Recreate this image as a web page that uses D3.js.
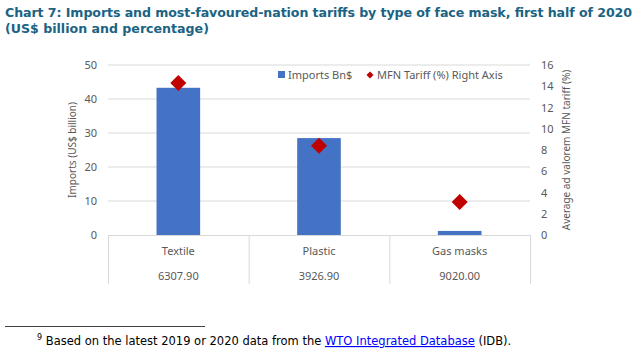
<!DOCTYPE html>
<html>
<head>
<meta charset="utf-8">
<script src="https://cdn.jsdelivr.net/npm/d3@7"></script>
<style>
  body { margin: 0; background: #fff; }
  svg { display: block; }
</style>
</head>
<body>
<svg id="chart"></svg>
<script>
const width = 640;
const height = 360;

const categories = ["Textile", "Plastic", "Gas masks"];
const imports = [43.3, 28.5, 1.2];
const tariffs = [14.3, 8.4, 3.1];
const tableValues = ["6307.90", "3926.90", "9020.00"];
const leftTicks = [0, 10, 20, 30, 40, 50];
const rightTicks = [0, 2, 4, 6, 8, 10, 12, 14, 16];

const svg = d3.select("#chart")
    .attr("width", width)
    .attr("height", height);

const plot = { left: 108, right: 530, top: 65, bottom: 235 };
const textColor = "#595959";
const gridColor = "#d9d9d9";
const chartFont = "'Noto Sans', 'Open Sans', sans-serif";

// title
const title = svg.append("text")
    .attr("font-family", "'DejaVu Sans', Verdana, sans-serif")
    .attr("font-weight", "bold")
    .attr("font-size", 12.6)
    .attr("fill", "#1b6383");
title.append("tspan").attr("x", 5).attr("y", 17)
    .attr("textLength", 627)
    .attr("lengthAdjust", "spacing")
    .text("Chart 7: Imports and most-favoured-nation tariffs by type of face mask, first half of 2020");
title.append("tspan").attr("x", 5).attr("y", 33)
    .text("(US$ billion and percentage)");

const x = d3.scaleBand()
    .domain(categories)
    .range([plot.left, plot.right])
    .padding(0);

const yLeft = d3.scaleLinear()
    .domain([0, 50])
    .range([plot.bottom, plot.top]);

const yRight = d3.scaleLinear()
    .domain([0, 16])
    .range([plot.bottom, plot.top]);

// gridlines
svg.append("g")
    .selectAll("line")
    .data(leftTicks.slice(1))
    .join("line")
    .attr("x1", plot.left)
    .attr("x2", plot.right)
    .attr("y1", d => yLeft(d))
    .attr("y2", d => yLeft(d))
    .attr("stroke", gridColor)
    .attr("stroke-width", 1);

// left axis
const leftAxis = svg.append("g")
    .attr("transform", `translate(${plot.left},0)`)
    .call(d3.axisLeft(yLeft).tickValues(leftTicks).tickSize(0).tickPadding(11));
leftAxis.select(".domain").remove();
leftAxis.selectAll("text")
    .attr("font-family", chartFont)
    .attr("font-size", 11)
    .attr("fill", textColor);

// right axis
const rightAxis = svg.append("g")
    .attr("transform", `translate(${plot.right},0)`)
    .call(d3.axisRight(yRight).tickValues(rightTicks).tickSize(0).tickPadding(11));
rightAxis.select(".domain").remove();
rightAxis.selectAll("text")
    .attr("font-family", chartFont)
    .attr("font-size", 11)
    .attr("fill", textColor);

// axis titles
svg.append("text")
    .attr("transform", `translate(76,${(plot.top + plot.bottom) / 2}) rotate(-90)`)
    .attr("text-anchor", "middle")
    .attr("font-family", chartFont)
    .attr("font-size", 10)
    .attr("fill", textColor)
    .text("Imports (US$ billion)");

svg.append("text")
    .attr("transform", `translate(570,${(plot.top + plot.bottom) / 2}) rotate(-90)`)
    .attr("text-anchor", "middle")
    .attr("font-family", chartFont)
    .attr("font-size", 10)
    .attr("fill", textColor)
    .text("Average ad valorem MFN tariff (%)");

// bars
const barW = x.bandwidth() * 0.31;
svg.append("g")
    .selectAll("rect")
    .data(categories)
    .join("rect")
    .attr("x", d => x(d) + (x.bandwidth() - barW) / 2)
    .attr("y", (d, i) => yLeft(imports[i]))
    .attr("width", barW)
    .attr("height", (d, i) => yLeft(0) - yLeft(imports[i]))
    .attr("fill", "#4472c4");

// diamonds
const dsize = 8;
svg.append("g")
    .selectAll("path")
    .data(categories)
    .join("path")
    .attr("transform", (d, i) => `translate(${x(d) + x.bandwidth() / 2},${yRight(tariffs[i])})`)
    .attr("d", `M0,${-dsize} L${dsize},0 L0,${dsize} L${-dsize},0 Z`)
    .attr("fill", "#c00000");

// data table under the axis
const tableBottom = 284;
svg.append("line")
    .attr("x1", plot.left).attr("x2", plot.right)
    .attr("y1", plot.bottom + 0.5).attr("y2", plot.bottom + 0.5)
    .attr("stroke", gridColor);
svg.append("g")
    .selectAll("line")
    .data(categories.concat([null]))
    .join("line")
    .attr("x1", (d, i) => (d ? x(d) : plot.right) + 0.5)
    .attr("x2", (d, i) => (d ? x(d) : plot.right) + 0.5)
    .attr("y1", plot.bottom)
    .attr("y2", tableBottom)
    .attr("stroke", gridColor);

svg.append("g")
    .selectAll("text")
    .data(categories)
    .join("text")
    .attr("x", d => x(d) + x.bandwidth() / 2)
    .attr("y", 255)
    .attr("text-anchor", "middle")
    .attr("font-family", chartFont)
    .attr("font-size", 11)
    .attr("fill", textColor)
    .text(d => d);

svg.append("g")
    .selectAll("text")
    .data(categories)
    .join("text")
    .attr("x", d => x(d) + x.bandwidth() / 2)
    .attr("y", 280)
    .attr("text-anchor", "middle")
    .attr("font-family", chartFont)
    .attr("font-size", 11)
    .attr("fill", textColor)
    .text((d, i) => tableValues[i]);

// legend
const legend = svg.append("g").attr("font-family", chartFont).attr("font-size", 11).attr("fill", textColor);
legend.append("rect").attr("x", 278).attr("y", 71).attr("width", 7).attr("height", 7).attr("fill", "#4472c4");
legend.append("text").attr("x", 288).attr("y", 79).text("Imports Bn$");
legend.append("path")
    .attr("transform", "translate(370,75)")
    .attr("d", "M0,-3.5 L3.5,0 L0,3.5 L-3.5,0 Z")
    .attr("fill", "#c00000");
legend.append("text").attr("x", 377).attr("y", 79).text("MFN Tariff (%) Right Axis");

// footnote
svg.append("line")
    .attr("x1", 5).attr("x2", 205)
    .attr("y1", 326.5).attr("y2", 326.5)
    .attr("stroke", "#404040");

const foot = svg.append("text")
    .attr("x", 37)
    .attr("y", 345)
    .attr("font-family", "'DejaVu Sans', Verdana, sans-serif")
    .attr("font-size", 11.5)
    .attr("fill", "#000");
foot.append("tspan").attr("font-size", 8).attr("dy", -5).text("9");
foot.append("tspan").attr("dy", 5).text(" Based on the latest 2019 or 2020 data from the ");
foot.append("tspan").attr("fill", "#0000ff").attr("text-decoration", "underline").text("WTO Integrated Database");
foot.append("tspan").text(" (IDB).");
</script>
</body>
</html>
